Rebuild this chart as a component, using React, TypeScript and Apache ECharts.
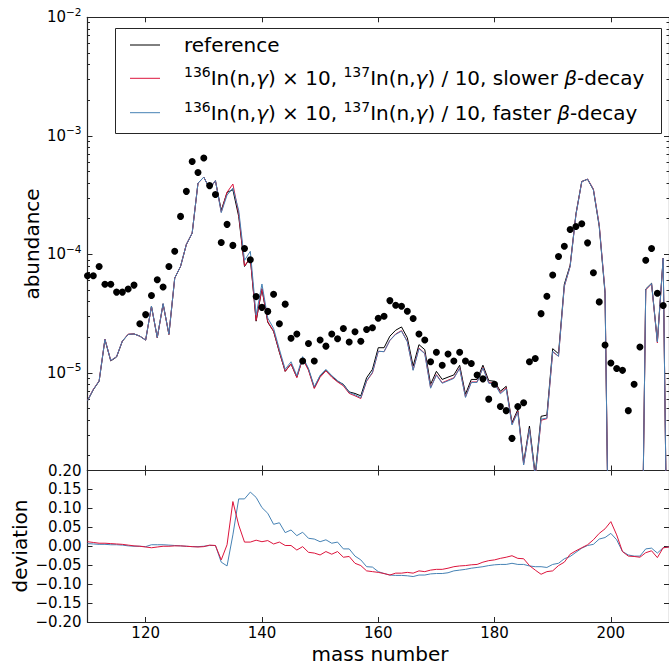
import React, { useEffect, useRef } from "react";
import * as echarts from "echarts";

const massNumbers = [
  110, 111, 112, 113, 114, 115, 116, 117, 118, 119,
  120, 121, 122, 123, 124, 125, 126, 127, 128, 129,
  130, 131, 132, 133, 134, 135, 136, 137, 138, 139,
  140, 141, 142, 143, 144, 145, 146, 147, 148, 149,
  150, 151, 152, 153, 154, 155, 156, 157, 158, 159,
  160, 161, 162, 163, 164, 165, 166, 167, 168, 169,
  170, 171, 172, 173, 174, 175, 176, 177, 178, 179,
  180, 181, 182, 183, 184, 185, 186, 187, 188, 189,
  190, 191, 192, 193, 194, 195, 196, 197, 198, 199,
  200, 201, 202, 203, 204, 205, 206, 207, 208, 209, 210,
];

const referenceAbundance = [
  5.8e-6, 7.2e-6, 8.5e-6, 1.91e-5, 1.26e-5, 1.36e-5, 1.85e-5, 2.11e-5, 2.13e-5, 2.04e-5,
  1.89e-5, 3.65e-5, 1.98e-5, 3.82e-5, 2.11e-5, 6.3e-5, 7.9e-5, 1.21e-4, 1.51e-4, 3.99e-4,
  4.48e-4, 3.57e-4, 4.18e-4, 2.35e-4, 3.33e-4, 3.51e-4, 2.09e-4, 7.9e-5, 9.3e-5, 2.73e-5,
  5.1e-5, 2.67e-5, 2.24e-5, 1.49e-5, 1.03e-5, 1.19e-5, 9.2e-6, 1.32e-5, 1.07e-5, 7.5e-6,
  9.4e-6, 1.05e-5, 9.4e-6, 8.5e-6, 8.0e-6, 6.9e-6, 6.7e-6, 6.4e-6, 9.1e-6, 1.07e-5,
  1.63e-5, 1.63e-5, 2.04e-5, 2.29e-5, 2.44e-5, 1.98e-5, 1.14e-5, 1.73e-5, 1.57e-5, 8.0e-6,
  1.03e-5, 8.8e-6, 9.2e-6, 9.6e-6, 1.16e-5, 6.6e-6, 8.8e-6, 8.8e-6, 1.16e-5, 8.6e-6,
  8.5e-6, 7.0e-6, 7.7e-6, 3.8e-6, 4.9e-6, 1.75e-6, 3.56e-6, 1.4e-6, 4.3e-6, 4.4e-6,
  1.6e-5, 1.45e-5, 5.6e-5, 8.1e-5, 2.2e-4, 4.12e-4, 4.3e-4, 3.5e-4, 1.72e-4, 4.7e-5,
  1e-8, 1e-8, 1e-8, 1e-8, 1e-8, 1e-8, 5.1e-5, 5.7e-5, 1.85e-5, 9.3e-5, 1e-8,
];

const slowerAbundance = [
  5.87e-6, 7.27e-6, 8.57e-6, 1.93e-5, 1.27e-5, 1.37e-5, 1.86e-5, 2.12e-5, 2.13e-5, 2.04e-5,
  1.89e-5, 3.64e-5, 1.98e-5, 3.82e-5, 2.11e-5, 6.31e-5, 7.91e-5, 1.21e-4, 1.51e-4, 3.98e-4,
  4.48e-4, 3.58e-4, 4.19e-4, 2.27e-4, 3.34e-4, 3.92e-4, 2.21e-4, 7.99e-5, 9.4e-5, 2.77e-5,
  5.16e-5, 2.71e-5, 2.25e-5, 1.51e-5, 1.03e-5, 1.19e-5, 9.11e-6, 1.32e-5, 1.05e-5, 7.37e-6,
  9.18e-6, 1.04e-5, 9.2e-6, 8.38e-6, 7.77e-6, 6.71e-6, 6.4e-6, 6.07e-6, 8.51e-6, 9.98e-6,
  1.52e-5, 1.51e-5, 1.88e-5, 2.13e-5, 2.27e-5, 1.84e-5, 1.06e-5, 1.62e-5, 1.46e-5, 7.5e-6,
  9.67e-6, 8.26e-6, 8.67e-6, 9.08e-6, 1.1e-5, 6.26e-6, 8.37e-6, 8.38e-6, 1.11e-5, 8.27e-6,
  8.19e-6, 6.78e-6, 7.48e-6, 3.71e-6, 4.74e-6, 1.69e-6, 3.38e-6, 1.31e-6, 3.98e-6, 4.11e-6,
  1.5e-5, 1.38e-5, 5.36e-5, 7.93e-5, 2.17e-4, 4.1e-4, 4.32e-4, 3.56e-4, 1.78e-4, 4.92e-5,
  1e-8, 1e-8, 1e-8, 1e-8, 1e-8, 1e-8, 5.01e-5, 5.63e-5, 1.79e-5, 9.26e-5, 1e-8,
];

const fasterAbundance = [
  5.84e-6, 7.24e-6, 8.54e-6, 1.92e-5, 1.27e-5, 1.37e-5, 1.86e-5, 2.11e-5, 2.13e-5, 2.04e-5,
  1.89e-5, 3.66e-5, 1.99e-5, 3.84e-5, 2.12e-5, 6.31e-5, 7.91e-5, 1.21e-4, 1.51e-4, 3.99e-4,
  4.48e-4, 3.58e-4, 4.19e-4, 2.25e-4, 3.16e-4, 3.62e-4, 2.35e-4, 8.89e-5, 1.06e-4, 3.08e-5,
  5.62e-5, 2.9e-5, 2.37e-5, 1.58e-5, 1.07e-5, 1.24e-5, 9.46e-6, 1.37e-5, 1.09e-5, 7.64e-6,
  9.51e-6, 1.07e-5, 9.48e-6, 8.59e-6, 7.94e-6, 6.85e-6, 6.53e-6, 6.17e-6, 8.61e-6, 1.01e-5,
  1.52e-5, 1.51e-5, 1.88e-5, 2.11e-5, 2.25e-5, 1.83e-5, 1.05e-5, 1.6e-5, 1.45e-5, 7.42e-6,
  9.56e-6, 8.17e-6, 8.56e-6, 8.98e-6, 1.09e-5, 6.2e-6, 8.29e-6, 8.31e-6, 1.1e-5, 8.16e-6,
  8.08e-6, 6.66e-6, 7.33e-6, 3.63e-6, 4.66e-6, 1.67e-6, 3.37e-6, 1.32e-6, 4.07e-6, 4.15e-6,
  1.52e-5, 1.38e-5, 5.42e-5, 7.88e-5, 2.16e-4, 4.1e-4, 4.31e-4, 3.52e-4, 1.75e-4, 4.81e-5,
  1e-8, 1e-8, 1e-8, 1e-8, 1e-8, 1e-8, 5.06e-5, 5.67e-5, 1.82e-5, 9.26e-5, 1e-8,
];

const slowerDeviation = [
  0.012, 0.010, 0.008, 0.008, 0.007, 0.006, 0.005, 0.003, 0.001, 0.000,
  -0.002, -0.004, -0.002, 0.000, 0.000, 0.001, 0.001, 0.000, -0.001, -0.002,
  -0.001, 0.003, 0.002, -0.036, 0.004, 0.118, 0.056, 0.011, 0.011, 0.016,
  0.012, 0.015, 0.006, 0.011, 0.002, 0.002, -0.010, -0.001, -0.016, -0.018,
  -0.023, -0.014, -0.021, -0.014, -0.029, -0.027, -0.045, -0.051, -0.065, -0.067,
  -0.069, -0.072, -0.076, -0.071, -0.071, -0.069, -0.071, -0.065, -0.067, -0.063,
  -0.061, -0.061, -0.058, -0.054, -0.052, -0.051, -0.049, -0.048, -0.042, -0.038,
  -0.036, -0.032, -0.029, -0.025, -0.032, -0.033, -0.051, -0.063, -0.074, -0.067,
  -0.065, -0.051, -0.042, -0.021, -0.012, -0.004, 0.004, 0.017, 0.034, 0.046,
  0.065, 0.030, -0.014, -0.026, -0.027, -0.029, -0.017, -0.012, -0.030, -0.004, -0.002,
];

const fasterDeviation = [
  0.007, 0.006, 0.005, 0.005, 0.004, 0.004, 0.003, 0.001, 0.000, 0.000,
  -0.001, 0.004, 0.004, 0.004, 0.003, 0.002, 0.001, 0.000, -0.001, -0.001,
  0.000, 0.002, 0.002, -0.042, -0.052, 0.030, 0.125, 0.125, 0.143, 0.129,
  0.102, 0.087, 0.058, 0.062, 0.036, 0.043, 0.028, 0.037, 0.021, 0.019,
  0.012, 0.017, 0.008, 0.011, -0.007, -0.007, -0.026, -0.036, -0.054, -0.055,
  -0.067, -0.072, -0.076, -0.077, -0.077, -0.078, -0.080, -0.076, -0.076, -0.073,
  -0.072, -0.072, -0.070, -0.065, -0.063, -0.061, -0.058, -0.056, -0.054, -0.051,
  -0.049, -0.048, -0.048, -0.045, -0.048, -0.048, -0.052, -0.054, -0.054, -0.056,
  -0.048, -0.045, -0.033, -0.027, -0.016, -0.005, 0.002, 0.005, 0.019, 0.023,
  0.034, 0.017, -0.014, -0.023, -0.026, -0.026, -0.007, -0.005, -0.018, -0.004, -0.002,
];

const solarMass = [
  110, 111, 112, 113, 114, 115, 116, 117, 118, 119,
  120, 121, 122, 123, 124, 125, 126, 127, 128, 129,
  130, 131, 132, 133, 134, 135, 137, 138, 139,
  140, 141, 142, 143, 144, 145, 146, 147, 148, 149,
  150, 151, 152, 153, 154, 155, 156, 157, 158, 159,
  160, 161, 162, 163, 164, 165, 166, 167, 168, 169,
  170, 171, 172, 173, 174, 175, 176, 177, 178, 179,
  180, 181, 182, 183, 184, 185, 186, 187, 188, 189,
  190, 191, 192, 193, 194, 195, 196, 197, 198, 199,
  200, 201, 202, 203, 204, 205, 206, 207, 208, 209,
];

const solarAbundance = [
  6.6e-5, 6.6e-5, 7.9e-5, 5.6e-5, 5.6e-5, 4.8e-5, 4.8e-5, 5.1e-5, 5.5e-5, 2.6e-5,
  3.1e-5, 4.5e-5, 6.1e-5, 5.3e-5, 7.9e-5, 1.06e-4, 2.09e-4, 3.4e-4, 6.07e-4, 4.9e-4,
  6.5e-4, 3.8e-4, 3.2e-4, 1.26e-4, 1.79e-4, 1.19e-4, 1.12e-4, 9.0e-5, 4.4e-5,
  3.57e-5, 3.3e-5, 4.6e-5, 2.6e-5, 3.8e-5, 1.96e-5, 2.13e-5, 1.26e-5, 1.77e-5, 1.26e-5,
  1.89e-5, 1.68e-5, 2.13e-5, 1.94e-5, 2.37e-5, 1.82e-5, 2.22e-5, 1.85e-5, 2.32e-5, 2.4e-5,
  2.89e-5, 3.0e-5, 4.07e-5, 3.72e-5, 3.65e-5, 3.31e-5, 2.87e-5, 2.13e-5, 1.89e-5, 1.24e-5,
  1.49e-5, 1.16e-5, 1.44e-5, 1.26e-5, 1.49e-5, 1.26e-5, 1.2e-5, 9.6e-6, 8.9e-6, 6.0e-6,
  8.0e-6, 5.2e-6, 4.8e-6, 2.8e-6, 5.2e-6, 5.6e-6, 1.24e-5, 1.32e-5, 3.16e-5, 4.43e-5,
  6.7e-5, 9.6e-5, 1.17e-4, 1.62e-4, 1.72e-4, 1.81e-4, 1.25e-4, 7.0e-5, 3.97e-5, 1.72e-5,
  1.21e-5, 1.09e-5, 1.05e-5, 4.8e-6, 8.0e-6, 1.65e-5, 8.9e-5, 1.12e-4, 4.7e-5, 3.7e-5,
];

const xTickValues = [120, 140, 160, 180, 200];
const logMajorTicks = [1e-5, 1e-4, 1e-3, 0.009999];
const logMinorTicks = [
  2e-6, 3e-6, 4e-6, 5e-6, 6e-6, 7e-6, 8e-6, 9e-6,
  2e-5, 3e-5, 4e-5, 5e-5, 6e-5, 7e-5, 8e-5, 9e-5,
  2e-4, 3e-4, 4e-4, 5e-4, 6e-4, 7e-4, 8e-4, 9e-4,
  2e-3, 3e-3, 4e-3, 5e-3, 6e-3, 7e-3, 8e-3, 9e-3,
];
const seriesNames = [
  "reference",
  "136In(n,γ) × 10, 137In(n,γ) / 10, slower β-decay",
  "136In(n,γ) × 10, 137In(n,γ) / 10, faster β-decay",
];
const legendRichTexts = [
  "{n|reference}",
  "{sup|136}{n|In(n,}{it|γ}{n|) × 10, }{sup|137}{n|In(n,}{it|γ}{n|) / 10, slower }{it|β}{n|-decay}",
  "{sup|136}{n|In(n,}{it|γ}{n|) × 10, }{sup|137}{n|In(n,}{it|γ}{n|) / 10, faster }{it|β}{n|-decay}",
];

const FONT = "DejaVu Sans";
const SPINE = "#262626";
const RED = "#dc143c";
const BLUE = "#4682b4";

const topGrid = { left: 87.5, top: 17.3, width: 584.7, height: 453.2 };
const bottomGrid = { left: 87.5, top: 470.5, width: 584.7, height: 151.5 };

function xAxisDef(gridIndex: number, position: string, showLabels: boolean) {
  return {
    type: "value",
    gridIndex,
    position,
    min: 110,
    max: 210,
    axisLine: { show: true, onZero: false, lineStyle: { color: SPINE, width: 1.2 } },
    axisTick: {
      show: true,
      inside: true,
      length: 5,
      customValues: xTickValues,
      lineStyle: { color: SPINE, width: 1 },
    },
    axisLabel: {
      show: showLabels,
      customValues: xTickValues,
      margin: 3,
      fontSize: 15,
      lineHeight: 15,
      fontFamily: FONT,
      color: "#000",
    },
    splitLine: { show: false },
  };
}

function logAxisDef(position: string, ticks: number[], len: number, labels: boolean, line: boolean) {
  return {
    type: "log",
    logBase: 10,
    gridIndex: 0,
    position,
    min: 1.5e-6,
    max: 1e-2,
    axisLine: { show: line, lineStyle: { color: SPINE, width: 1.2 } },
    axisTick: {
      show: true,
      inside: true,
      length: len,
      customValues: ticks,
      lineStyle: { color: SPINE, width: 1 },
    },
    axisLabel: {
      show: labels,
      customValues: ticks,
      margin: 6,
      formatter: (v: number) => `{b|10}{s|−${Math.abs(Math.round(Math.log10(v)))}}`,
      rich: {
        b: { fontSize: 15, fontFamily: FONT, color: "#000", lineHeight: 22 },
        s: { fontSize: 10.5, fontFamily: FONT, color: "#000", lineHeight: 11, verticalAlign: "top" },
      },
    },
    splitLine: { show: false },
  };
}

function devAxisDef(position: string, labels: boolean) {
  return {
    type: "value",
    gridIndex: 1,
    position,
    min: -0.2,
    max: 0.2,
    interval: 0.05,
    axisLine: { show: true, onZero: false, lineStyle: { color: SPINE, width: 1.2 } },
    axisTick: { show: true, inside: true, length: 5, lineStyle: { color: SPINE, width: 1 } },
    axisLabel: {
      show: labels,
      margin: 6,
      fontSize: 15,
      lineHeight: 16,
      fontFamily: FONT,
      color: "#000",
      formatter: (v: number) => {
        const r = Math.round(v * 100) / 100;
        return (r < 0 ? "−" : "") + Math.abs(r).toFixed(2);
      },
    },
    splitLine: { show: false },
  };
}

function pairs(values: number[]) {
  return massNumbers.map((m, i) => [m, values[i]]);
}

export default function App() {
  const ref = useRef<HTMLDivElement>(null);
  useEffect(() => {
    if (!ref.current) return;
    const chart = echarts.init(ref.current, null, { renderer: "svg" });
    const legendRows = [45, 78.3, 112.7];
    const legendColors = ["#000000", RED, BLUE];
    const legendRich = {
      n: { fontSize: 20, fontFamily: FONT, color: "#000", lineHeight: 26 },
      it: { fontSize: 20, fontFamily: FONT, fontStyle: "italic", color: "#000", lineHeight: 26 },
      sup: { fontSize: 14, fontFamily: FONT, color: "#000", lineHeight: 15, verticalAlign: "top" },
    };
    const graphics: any[] = [
      {
        type: "rect",
        z: 100,
        shape: { x: 115.5, y: 28.5, width: 546, height: 105 },
        style: { fill: "#fff", stroke: SPINE, lineWidth: 1 },
      },
    ];
    legendRows.forEach((y, i) => {
      graphics.push({
        type: "line",
        z: 101,
        shape: { x1: 130, y1: y, x2: 160, y2: y },
        style: { stroke: legendColors[i], lineWidth: 1 },
      });
      graphics.push({
        type: "text",
        z: 101,
        x: 184,
        y,
        style: {
          text: legendRichTexts[i],
          rich: legendRich,
          fontSize: 20,
          fontFamily: FONT,
          fill: "#000",
          align: "left",
          verticalAlign: "middle",
        },
      });
    });
    graphics.push(
      {
        type: "text",
        x: 31.5,
        y: 244,
        rotation: Math.PI / 2,
        style: { text: "abundance", fontSize: 20, fontFamily: FONT, fill: "#000", align: "center", verticalAlign: "middle" },
      },
      {
        type: "text",
        x: 20,
        y: 546,
        rotation: Math.PI / 2,
        style: { text: "deviation", fontSize: 20, fontFamily: FONT, fill: "#000", align: "center", verticalAlign: "middle" },
      },
      {
        type: "text",
        x: 380,
        y: 653.5,
        style: {
          text: "mass number",
          fontSize: 20,
          lineHeight: 20,
          fontFamily: FONT,
          fill: "#000",
          align: "center",
          verticalAlign: "middle",
        },
      }
    );

    chart.setOption({
      animation: false,
      backgroundColor: "#fff",
      textStyle: { fontFamily: FONT },
      grid: [
        { ...topGrid, containLabel: false },
        { ...bottomGrid, containLabel: false },
      ],
      xAxis: [
        xAxisDef(0, "bottom", false),
        xAxisDef(0, "top", false),
        xAxisDef(1, "bottom", true),
        xAxisDef(1, "top", false),
      ],
      yAxis: [
        logAxisDef("left", logMajorTicks, 5, true, true),
        logAxisDef("left", logMinorTicks, 2.5, false, false),
        logAxisDef("right", logMajorTicks, 5, false, true),
        logAxisDef("right", logMinorTicks, 2.5, false, false),
        devAxisDef("left", true),
        devAxisDef("right", false),
      ],
      series: [
        {
          name: seriesNames[0],
          type: "line",
          xAxisIndex: 0,
          yAxisIndex: 0,
          data: pairs(referenceAbundance),
          symbol: "none",
          lineStyle: { color: "#000", width: 1 },
          itemStyle: { color: "#000" },
          clip: true,
          z: 2,
        },
        {
          name: seriesNames[1],
          type: "line",
          xAxisIndex: 0,
          yAxisIndex: 0,
          data: pairs(slowerAbundance),
          symbol: "none",
          lineStyle: { color: RED, width: 1 },
          itemStyle: { color: RED },
          clip: true,
          z: 3,
        },
        {
          name: seriesNames[2],
          type: "line",
          xAxisIndex: 0,
          yAxisIndex: 0,
          data: pairs(fasterAbundance),
          symbol: "none",
          lineStyle: { color: BLUE, width: 1 },
          itemStyle: { color: BLUE },
          clip: true,
          z: 4,
        },
        {
          name: "solar",
          type: "scatter",
          xAxisIndex: 0,
          yAxisIndex: 0,
          data: solarMass.map((m, i) => [m, solarAbundance[i]]),
          symbol: "circle",
          symbolSize: 7,
          itemStyle: { color: "#000", opacity: 1 },
          clip: true,
          z: 5,
        },
        {
          name: seriesNames[2] + " (deviation)",
          type: "line",
          xAxisIndex: 2,
          yAxisIndex: 4,
          data: pairs(fasterDeviation),
          symbol: "none",
          lineStyle: { color: BLUE, width: 1 },
          itemStyle: { color: BLUE },
          clip: true,
          z: 3,
        },
        {
          name: seriesNames[1] + " (deviation)",
          type: "line",
          xAxisIndex: 2,
          yAxisIndex: 4,
          data: pairs(slowerDeviation),
          symbol: "none",
          lineStyle: { color: RED, width: 1 },
          itemStyle: { color: RED },
          clip: true,
          z: 4,
        },
      ],
      graphic: graphics,
    });
    return () => chart.dispose();
  }, []);
  return (
    <div
      ref={ref}
      style={{ position: "absolute", left: 0, top: 0, width: 669, height: 664, background: "#fff" }}
    />
  );
}
